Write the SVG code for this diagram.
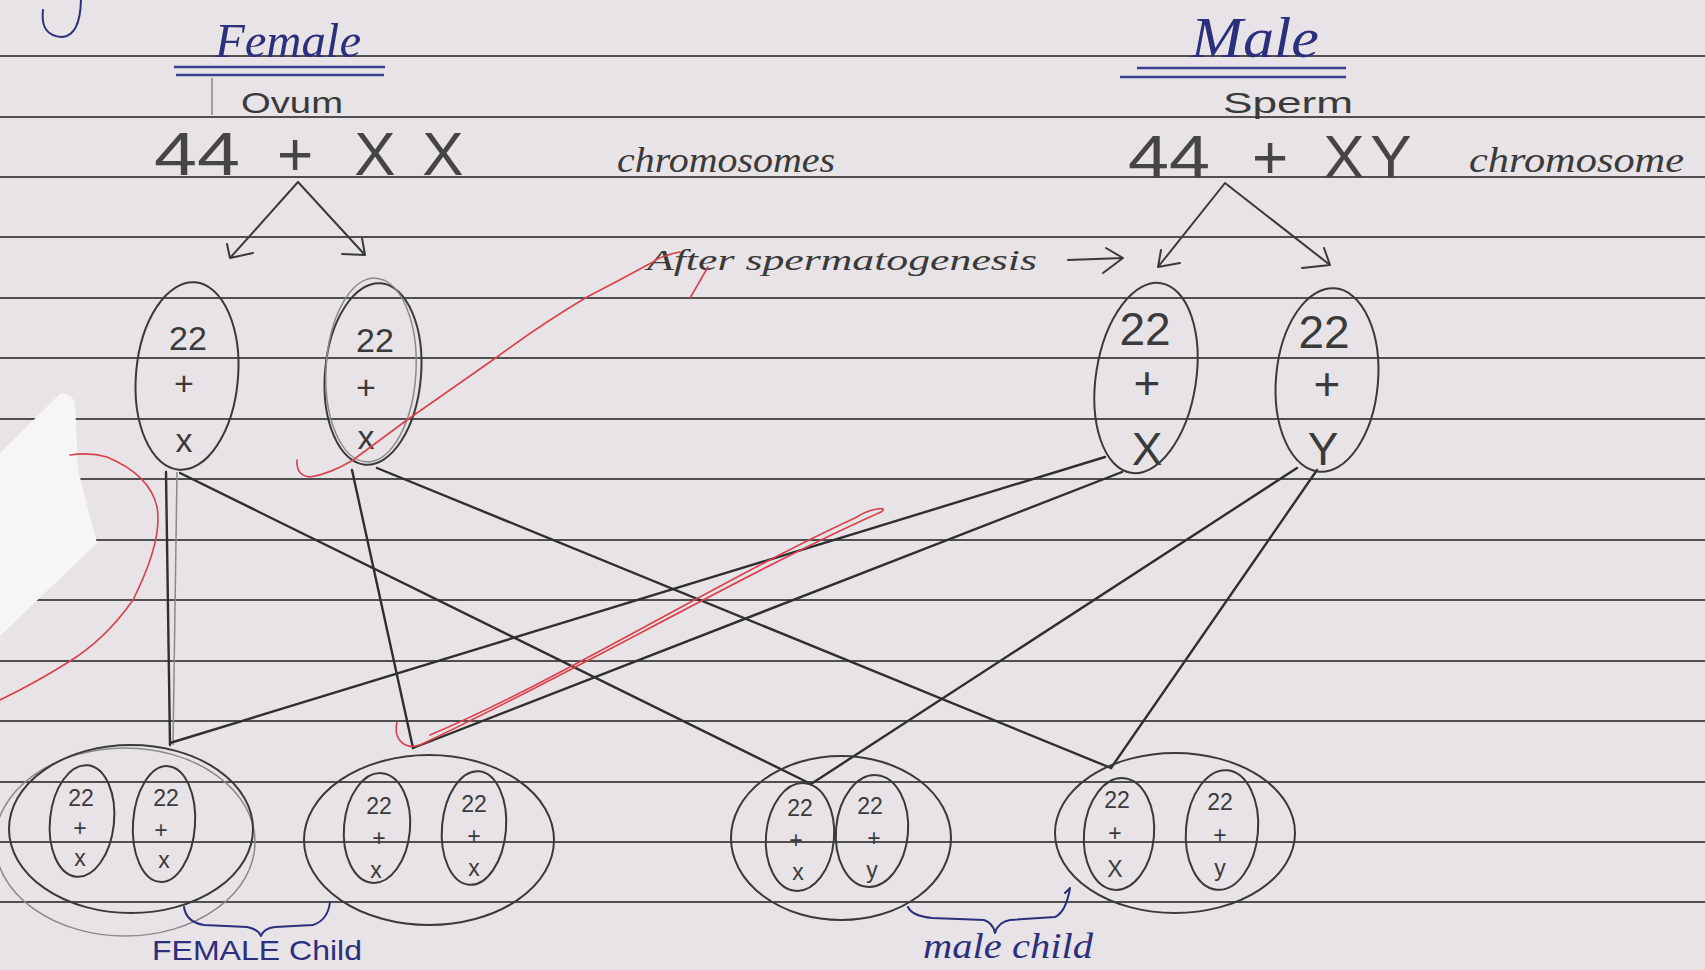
<svg xmlns="http://www.w3.org/2000/svg" width="1705" height="970" viewBox="0 0 1705 970">
<defs>
<style>
.rule{stroke:#4f4f4f;stroke-width:2;fill:none}
.pen{stroke:#3a3a3a;stroke-width:2;fill:none;stroke-linecap:round;stroke-linejoin:round}
.faint{stroke:#8a8a8a;stroke-width:1.5;fill:none}
.line{stroke:#2f2f2f;stroke-width:2.4;fill:none;stroke-linecap:round}
.red{stroke:#d8414d;stroke-width:1.6;fill:none;stroke-linecap:round;stroke-linejoin:round}
.blue{stroke:#2b2f7c;stroke-width:2;fill:none;stroke-linecap:round;stroke-linejoin:round}
.ul{stroke:#3a3f8f;stroke-width:2.5}
.pt{font-family:"Liberation Sans",Arial,sans-serif;fill:#3a3a3a;text-anchor:middle}
.big{font-family:"Liberation Sans",Arial,sans-serif;fill:#454545;font-size:62px;text-anchor:middle}
.cur{font-family:"Liberation Serif","DejaVu Serif",serif;font-style:italic;fill:#3a3a3a}
.bl{font-family:"Liberation Serif","DejaVu Serif",serif;font-style:italic;fill:#2b2f7c}
.blc{font-family:"Liberation Sans",Arial,sans-serif;fill:#2b2f7c}
.g{font-size:34px}
.gm{font-size:46px}
.c{font-size:23px}
</style>
</defs>
<rect width="1705" height="970" fill="#e7e3e6"/>
<g id="paper-rules">
<line class="rule" x1="0" y1="56" x2="1705" y2="56"/>
<line class="rule" x1="0" y1="117" x2="1705" y2="117"/>
<line class="rule" x1="0" y1="177" x2="1705" y2="177"/>
<line class="rule" x1="0" y1="237" x2="1705" y2="237"/>
<line class="rule" x1="0" y1="298" x2="1705" y2="298"/>
<line class="rule" x1="0" y1="358" x2="1705" y2="358"/>
<line class="rule" x1="0" y1="419" x2="1705" y2="419"/>
<line class="rule" x1="0" y1="479" x2="1705" y2="479"/>
<line class="rule" x1="0" y1="540" x2="1705" y2="540"/>
<line class="rule" x1="0" y1="600" x2="1705" y2="600"/>
<line class="rule" x1="0" y1="661" x2="1705" y2="661"/>
<line class="rule" x1="0" y1="721" x2="1705" y2="721"/>
<line class="rule" x1="0" y1="782" x2="1705" y2="782"/>
<line class="rule" x1="0" y1="842" x2="1705" y2="842"/>
<line class="rule" x1="0" y1="902" x2="1705" y2="902"/>
</g>
<path d="M0 453 L60 394 Q70 392 75 402 L78 470 L97 543 L0 636 Z" fill="#f7f6f7"/>
<path class="blue" d="M43 10 Q40 36 62 37 Q80 36 81 0"/>

<g id="female-header">
<text class="bl" x="215" y="57" font-size="48" textLength="146" lengthAdjust="spacingAndGlyphs">Female</text>
<line class="ul" x1="174" y1="67" x2="385" y2="67"/>
<line class="ul" x1="176" y1="75" x2="384" y2="75"/>
<line class="faint" x1="212" y1="78" x2="212" y2="115"/>
<text class="pt" x="292" y="113" font-size="30" textLength="102" lengthAdjust="spacingAndGlyphs">Ovum</text>
<text class="big" x="197" y="175" textLength="86" lengthAdjust="spacingAndGlyphs">44</text>
<text class="big" x="295" y="175" font-size="66">+</text>
<text class="big" x="375" y="175">X</text>
<text class="big" x="443" y="175">X</text>
<text class="cur" x="617" y="172" font-size="36" textLength="218" lengthAdjust="spacingAndGlyphs">chromosomes</text>
<path class="pen" d="M298 182 L230 258 M227 244 L230 258 L253 253 M298 182 L365 255 M342 254 L365 255 L362 238"/>
</g>

<g id="male-header">
<text class="bl" x="1191" y="57" font-size="56" textLength="128" lengthAdjust="spacingAndGlyphs">Male</text>
<line class="ul" x1="1137" y1="68" x2="1346" y2="68"/>
<line class="ul" x1="1120" y1="77" x2="1346" y2="77"/>
<text class="pt" x="1288" y="113" font-size="30" textLength="130" lengthAdjust="spacingAndGlyphs">Sperm</text>
<text class="big" x="1169" y="178" textLength="82" lengthAdjust="spacingAndGlyphs">44</text>
<text class="big" x="1270" y="178" font-size="66">+</text>
<text class="big" x="1344" y="178">X</text>
<text class="big" x="1391" y="178">Y</text>
<text class="cur" x="1469" y="172" font-size="36" textLength="215" lengthAdjust="spacingAndGlyphs">chromosome</text>
<path class="pen" d="M1225 183 L1158 267 M1161 250 L1158 267 L1180 263 M1225 183 L1330 265 M1302 268 L1330 265 L1324 248"/>
</g>

<g id="spermatogenesis-label">
<text class="cur" x="647" y="270" font-size="30" textLength="390" lengthAdjust="spacingAndGlyphs">After spermatogenesis</text>
<path class="pen" d="M1068 260 L1123 258 M1106 248 L1123 258 L1103 273"/>
</g>

<g id="connectors">
<line class="line" x1="166" y1="472" x2="170" y2="745"/>
<line class="faint" x1="177" y1="472" x2="173" y2="745"/>
<line class="line" x1="180" y1="473" x2="811" y2="784"/>
<line class="line" x1="352" y1="470" x2="413" y2="748"/>
<line class="line" x1="377" y1="468" x2="1111" y2="768"/>
<line class="line" x1="1105" y1="457" x2="170" y2="743"/>
<line class="line" x1="1122" y1="472" x2="413" y2="748"/>
<line class="line" x1="1297" y1="468" x2="811" y2="784"/>
<line class="line" x1="1317" y1="470" x2="1111" y2="768"/>
</g>

<g id="ovum-x-1">
<ellipse class="pen" cx="187" cy="376" rx="51" ry="94" transform="rotate(5 187 376)"/>
<text class="pt g" x="188" y="350">22</text>
<text class="pt g" x="184" y="395">+</text>
<text class="pt g" x="184" y="452">x</text>
</g>
<g id="ovum-x-2">
<ellipse class="pen" cx="373" cy="374" rx="48" ry="91" transform="rotate(5 373 374)"/>
<ellipse class="faint" cx="371" cy="370" rx="45" ry="92" transform="rotate(3 371 370)"/>
<text class="pt g" x="375" y="352">22</text>
<text class="pt g" x="366" y="399">+</text>
<text class="pt g" x="366" y="449">x</text>
</g>
<g id="sperm-x">
<ellipse class="pen" cx="1146" cy="378" rx="50" ry="96" transform="rotate(9 1146 378)"/>
<text class="pt gm" x="1145" y="345">22</text>
<text class="pt gm" x="1147" y="399">+</text>
<text class="pt gm" x="1147" y="465">X</text>
</g>
<g id="sperm-y">
<ellipse class="pen" cx="1327" cy="380" rx="51" ry="92" transform="rotate(5 1327 380)"/>
<text class="pt gm" x="1324" y="348">22</text>
<text class="pt gm" x="1327" y="400">+</text>
<text class="pt gm" x="1323" y="465">Y</text>
</g>

<g id="female-child-1">
<ellipse class="faint" cx="125" cy="842" rx="130" ry="94"/>
<ellipse class="pen" cx="131" cy="829" rx="122" ry="84"/>
<ellipse class="pen" cx="82" cy="821" rx="32" ry="56" transform="rotate(6 82 821)"/>
<ellipse class="pen" cx="164" cy="824" rx="31" ry="58" transform="rotate(4 164 824)"/>
<text class="pt c" x="81" y="806">22</text>
<text class="pt c" x="80" y="836">+</text>
<text class="pt c" x="80" y="866">x</text>
<text class="pt c" x="166" y="806">22</text>
<text class="pt c" x="161" y="838">+</text>
<text class="pt c" x="164" y="868">x</text>
</g>
<g id="female-child-2">
<ellipse class="pen" cx="429" cy="840" rx="125" ry="85"/>
<ellipse class="pen" cx="377" cy="828" rx="33" ry="55" transform="rotate(5 377 828)"/>
<ellipse class="pen" cx="474" cy="828" rx="32" ry="57" transform="rotate(5 474 828)"/>
<text class="pt c" x="379" y="814">22</text>
<text class="pt c" x="379" y="846">+</text>
<text class="pt c" x="376" y="878">x</text>
<text class="pt c" x="474" y="812">22</text>
<text class="pt c" x="474" y="844">+</text>
<text class="pt c" x="474" y="876">x</text>
</g>
<g id="male-child-1">
<ellipse class="pen" cx="841" cy="838" rx="110" ry="82"/>
<ellipse class="pen" cx="800" cy="837" rx="34" ry="54" transform="rotate(5 800 837)"/>
<ellipse class="pen" cx="872" cy="831" rx="36" ry="56" transform="rotate(5 872 831)"/>
<text class="pt c" x="800" y="816">22</text>
<text class="pt c" x="796" y="848">+</text>
<text class="pt c" x="798" y="880">x</text>
<text class="pt c" x="870" y="814">22</text>
<text class="pt c" x="874" y="846">+</text>
<text class="pt c" x="872" y="878">y</text>
</g>
<g id="male-child-2">
<ellipse class="pen" cx="1175" cy="833" rx="120" ry="80"/>
<ellipse class="pen" cx="1119" cy="834" rx="35" ry="56" transform="rotate(5 1119 834)"/>
<ellipse class="pen" cx="1222" cy="830" rx="36" ry="60" transform="rotate(5 1222 830)"/>
<text class="pt c" x="1117" y="808">22</text>
<text class="pt c" x="1115" y="841">+</text>
<text class="pt c" x="1115" y="877">X</text>
<text class="pt c" x="1220" y="810">22</text>
<text class="pt c" x="1220" y="843">+</text>
<text class="pt c" x="1220" y="876">y</text>
</g>

<g id="child-labels">
<path class="blue" d="M184 907 Q186 922 204 925 L247 927 Q258 929 261 936 Q264 928 275 927 L313 925 Q328 920 330 902"/>
<text class="blc" x="152" y="960" font-size="28" textLength="210" lengthAdjust="spacingAndGlyphs">FEMALE Child</text>
<path class="blue" d="M908 907 Q912 916 932 918 L984 920 Q993 923 995 933 Q998 922 1010 920 L1055 917 Q1066 912 1070 888 L1065 893"/>
<text class="bl" x="923" y="958" font-size="36" textLength="170" lengthAdjust="spacingAndGlyphs">male child</text>
</g>

<g id="red-marks">
<path class="red" d="M680 252 Q660 256 653 262 Q620 280 587 297 Q540 325 497 357 Q450 390 407 420 Q380 440 353 460 Q330 474 310 477 Q296 476 297 460"/>
<path class="red" d="M690 298 L708 267"/>
<path class="red" d="M70 455 Q90 452 107 457 Q150 475 157 507 Q163 540 133 600 Q105 640 67 663 Q35 683 0 700"/>
<path class="red" d="M397 722 C393 740 405 750 420 745 C560 680 750 570 881 512 C890 506 870 508 855 518 C720 580 560 680 430 735"/>
</g>
</svg>
